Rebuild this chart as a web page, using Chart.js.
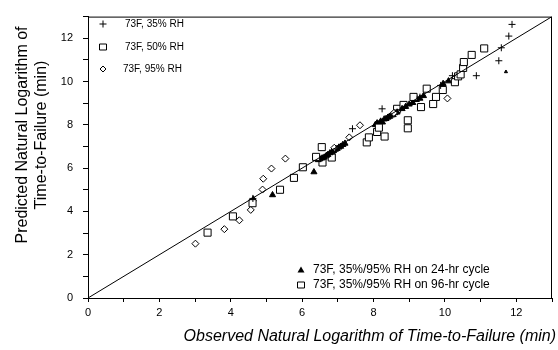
<!DOCTYPE html>
<html>
<head>
<meta charset="utf-8">
<script src="https://cdn.jsdelivr.net/npm/chart.js@4"></script>
<style>
  html, body { margin: 0; padding: 0; background: #fff; }
  #wrap { width: 558px; height: 350px; }
</style>
</head>
<body>
<div id="wrap"><canvas id="graphique"></canvas></div>
<script>
const rh35X = [11.88, 11.79, 11.58, 11.51, 10.88, 10.21, 9.88, 8.24, 7.41, 4.62, 8.42, 9.30, 6.95];
const rh35Y = [12.64, 12.10, 11.56, 10.96, 10.27, 10.27, 9.82, 8.74, 7.82, 4.60, 8.35, 9.28, 6.88];

const rh50X = [3.35, 4.06, 4.61, 5.38, 5.77, 6.02, 6.39, 6.55, 7.81, 7.87, 8.10, 8.15, 8.31, 8.96, 8.96, 9.12, 9.33, 9.67, 9.49, 9.94, 10.28, 10.37, 10.44, 10.51, 10.53, 10.75, 11.10];
const rh50Y = [3.02, 3.77, 4.38, 5.00, 5.55, 6.04, 6.52, 6.97, 7.19, 7.42, 7.67, 7.87, 7.46, 8.21, 7.84, 9.29, 8.82, 8.96, 9.67, 9.61, 9.97, 10.24, 10.33, 10.63, 10.90, 11.23, 11.53];

const rh95X = [3.01, 3.82, 4.24, 4.56, 4.89, 4.91, 5.14, 5.53, 6.90, 7.32, 7.62, 8.57, 10.07, 9.15];
const rh95Y = [2.51, 3.18, 3.59, 4.07, 5.01, 5.51, 5.98, 6.44, 6.94, 7.42, 7.98, 8.55, 9.22, 9.30];

const cycle24X = [4.63, 5.17, 6.33, 11.71, 6.45, 6.50, 6.56, 6.62, 6.68, 6.72, 6.78, 6.84, 6.88, 6.93, 6.98, 7.03, 7.08, 7.14, 7.20,
  8.05, 8.10, 8.15, 8.20, 8.25, 8.30, 8.35, 8.40, 8.45, 8.50, 8.55, 8.60, 8.66, 8.80, 8.90, 9.00, 9.10, 9.20, 9.30, 9.40, 9.95, 10.10];
const cycle24Y = [4.56, 4.76, 5.82, 10.45, 6.38, 6.42, 6.46, 6.50, 6.58, 6.62, 6.70, 6.74, 6.80, 6.86, 6.90, 6.96, 7.00, 7.08, 7.14,
  8.00, 8.08, 8.04, 8.16, 8.12, 8.26, 8.28, 8.34, 8.38, 8.44, 8.46, 8.55, 8.58, 8.74, 8.84, 8.95, 9.02, 9.16, 9.22, 9.34, 9.90, 10.02];

const cycle96X = [6.57, 6.83, 8.66, 8.84, 9.75];
const cycle96Y = [6.26, 6.49, 8.74, 8.92, 9.29];

// Droite prédit = observé
const ligneX = [0, 13];
const ligneY = [0, 13];

const titreX = 'Observed Natural Logarithm of Time-to-Failure (min)';
const titreY = ['Predicted Natural Logarithm of', 'Time-to-Failure (min)'];

function points(xs, ys) {
    return xs.map((x, i) => ({ x: x, y: ys[i] }));
}

// Dessin des marqueurs de légende
function marker(ctx, style, x, y) {
    ctx.beginPath();
    if (style === 'cross') {
        ctx.moveTo(x - 3.5, y); ctx.lineTo(x + 3.5, y);
        ctx.moveTo(x, y - 3.5); ctx.lineTo(x, y + 3.5);
        ctx.stroke();
    } else if (style === 'rect') {
        ctx.rect(x - 3.5, y - 3, 7, 6);
        ctx.fillStyle = '#fff'; ctx.fill(); ctx.stroke();
    } else if (style === 'diamond') {
        ctx.moveTo(x, y - 3); ctx.lineTo(x + 3, y); ctx.lineTo(x, y + 3); ctx.lineTo(x - 3, y); ctx.closePath();
        ctx.fillStyle = '#fff'; ctx.fill(); ctx.stroke();
    } else if (style === 'triangle') {
        ctx.moveTo(x, y - 3.5); ctx.lineTo(x + 3.5, y + 2.5); ctx.lineTo(x - 3.5, y + 2.5); ctx.closePath();
        ctx.fillStyle = '#000'; ctx.fill();
    }
}

const cadre = {
    id: 'cadre',
    afterDraw(chart) {
        const ctx = chart.ctx;
        const a = chart.chartArea;
        ctx.save();
        ctx.strokeStyle = '#000';
        ctx.lineWidth = 1;
        ctx.strokeRect(a.left + 0.5, a.top + 0.5, a.right - a.left - 1, a.bottom - a.top);

        // légende en haut à gauche
        ctx.fillStyle = '#000';
        ctx.font = '10px "Liberation Sans", Arial, sans-serif';
        ctx.textBaseline = 'middle';
        const haut = [['cross', '73F, 35% RH', 24], ['rect', '73F, 50% RH', 47], ['diamond', '73F, 95% RH', 69]];
        haut.forEach(l => {
            marker(ctx, l[0], 103, l[2]);
            ctx.fillStyle = '#000';
            ctx.fillText(l[1], l[0] === 'diamond' ? 123 : 125, l[2]);
        });

        // légende en bas à droite
        ctx.font = '12px "Liberation Sans", Arial, sans-serif';
        const bas = [['triangle', '73F, 35%/95% RH on 24-hr cycle', 270], ['rect', '73F, 35%/95% RH on 96-hr cycle', 285]];
        bas.forEach(l => {
            marker(ctx, l[0], 301, l[2]);
            ctx.fillStyle = '#000';
            ctx.fillText(l[1], 313, l[2]);
        });

        // titres des axes
        ctx.font = 'italic 16px "Liberation Sans", Arial, sans-serif';
        ctx.textAlign = 'right';
        ctx.fillText(titreX, 556, 337);

        ctx.font = '16px "Liberation Sans", Arial, sans-serif';
        ctx.textAlign = 'center';
        ctx.save();
        ctx.translate(23, 135);
        ctx.rotate(-Math.PI / 2);
        ctx.fillText(titreY[0], 0, 0);
        ctx.fillText(titreY[1], 0, 19);
        ctx.restore();
        ctx.restore();
    }
};

Chart.defaults.font.family = '"Liberation Sans", Arial, sans-serif';
Chart.defaults.color = '#000';

const ctx = document.getElementById('graphique').getContext('2d');
const monGraphique = new Chart(ctx, {
    type: 'scatter',
    data: {
        datasets: [
            {
                type: 'line',
                label: 'fit',
                data: points(ligneX, ligneY),
                borderColor: '#000',
                borderWidth: 1,
                pointRadius: 0
            },
            {
                label: '73F, 35% RH',
                data: points(rh35X, rh35Y),
                pointStyle: 'cross',
                pointRadius: 3.5,
                borderColor: '#000',
                borderWidth: 1
            },
            {
                label: '73F, 50% RH',
                data: points(rh50X, rh50Y),
                pointStyle: 'rect',
                pointRadius: 5,
                backgroundColor: '#fff',
                borderColor: '#000',
                borderWidth: 1
            },
            {
                label: '73F, 95% RH',
                data: points(rh95X, rh95Y),
                pointStyle: 'rectRot',
                pointRadius: 3.5,
                backgroundColor: '#fff',
                borderColor: '#000',
                borderWidth: 1
            },
            {
                label: '73F, 35%/95% RH on 24-hr cycle',
                data: points(cycle24X, cycle24Y),
                pointStyle: 'triangle',
                // le point isolé en haut à droite est plus petit
                pointRadius: c => (c.raw && c.raw.x > 11 ? 1.8 : 3.5),
                backgroundColor: '#000',
                borderColor: '#000',
                borderWidth: 1
            },
            {
                label: '73F, 35%/95% RH on 96-hr cycle',
                data: points(cycle96X, cycle96Y),
                pointStyle: 'rect',
                pointRadius: 5,
                backgroundColor: '#fff',
                borderColor: '#000',
                borderWidth: 1
            }
        ]
    },
    options: {
        responsive: true,
        maintainAspectRatio: false,
        animation: false,
        layout: { padding: { top: 9, right: 1, left: 0, bottom: 0 } },
        plugins: {
            legend: { display: false },
            tooltip: { enabled: false }
        },
        scales: {
            x: {
                type: 'linear',
                min: 0,
                max: 13,
                afterFit: s => { s.height = 52; },
                ticks: {
                    stepSize: 1,
                    padding: 4,
                    font: { size: 11 },
                    callback: v => (v % 2 === 0 ? v : '')
                },
                grid: { drawOnChartArea: false, tickLength: 4, color: '#000' },
                border: { color: '#000' }
            },
            y: {
                type: 'linear',
                min: 0,
                max: 13,
                afterFit: s => { s.width = 88; },
                ticks: {
                    stepSize: 1,
                    padding: 10,
                    font: { size: 11 },
                    callback: v => (v % 2 === 0 ? v : '')
                },
                grid: { drawOnChartArea: false, tickLength: 5, color: '#000' },
                border: { color: '#000' }
            }
        }
    },
    plugins: [cadre]
});
</script>
</body>
</html>
